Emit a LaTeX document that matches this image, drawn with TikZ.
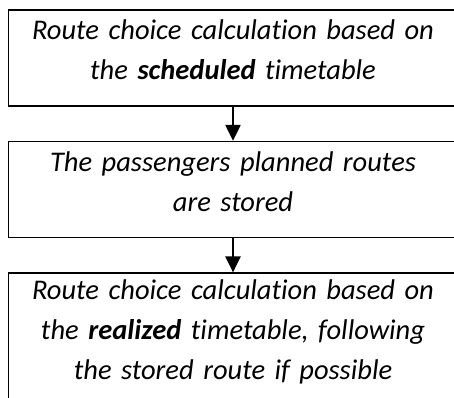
\documentclass[tikz,border=0pt]{standalone}
\usepackage{fontspec}
\setmainfont{Carlito}[Ligatures=NoCommon]
\usetikzlibrary{arrows.meta,positioning}

\tikzset{
  stepbox/.style={draw, line width=1.6pt, minimum width=449pt, minimum height=96pt,
    inner xsep=4pt, inner ysep=0pt, text width=440pt, align=center,
    font=\itshape\fontsize{28.5}{40}\selectfont,
    execute at end node={\par\vspace{16pt}}},
  flowarrow/.style={line width=2.4pt, -{Triangle[length=16pt,width=15pt]}}
}

\begin{document}
\begin{tikzpicture}
		%%%%% START %%%%%
		
		\useasboundingbox (0pt,0pt) rectangle (454pt,397pt);
		
		\node[stepbox] (schedcalc) at (233pt,339pt)
			{Route choice calculation based on\\the \textbf{scheduled} timetable};
		
		\node[stepbox, below=34pt of schedcalc] (storeroutes)
			{The passengers planned routes\\are stored};
		
		\node[stepbox, minimum height=134pt, below=34pt of storeroutes] (realcalc)
			{Route choice calculation based on\\the \textbf{realized} timetable, following\\the stored route if possible};
		
		\draw[flowarrow] (schedcalc) -- (storeroutes);
		\draw[flowarrow] (storeroutes) -- (realcalc);
		
		%%%%% END %%%%%
\end{tikzpicture}
\end{document}
